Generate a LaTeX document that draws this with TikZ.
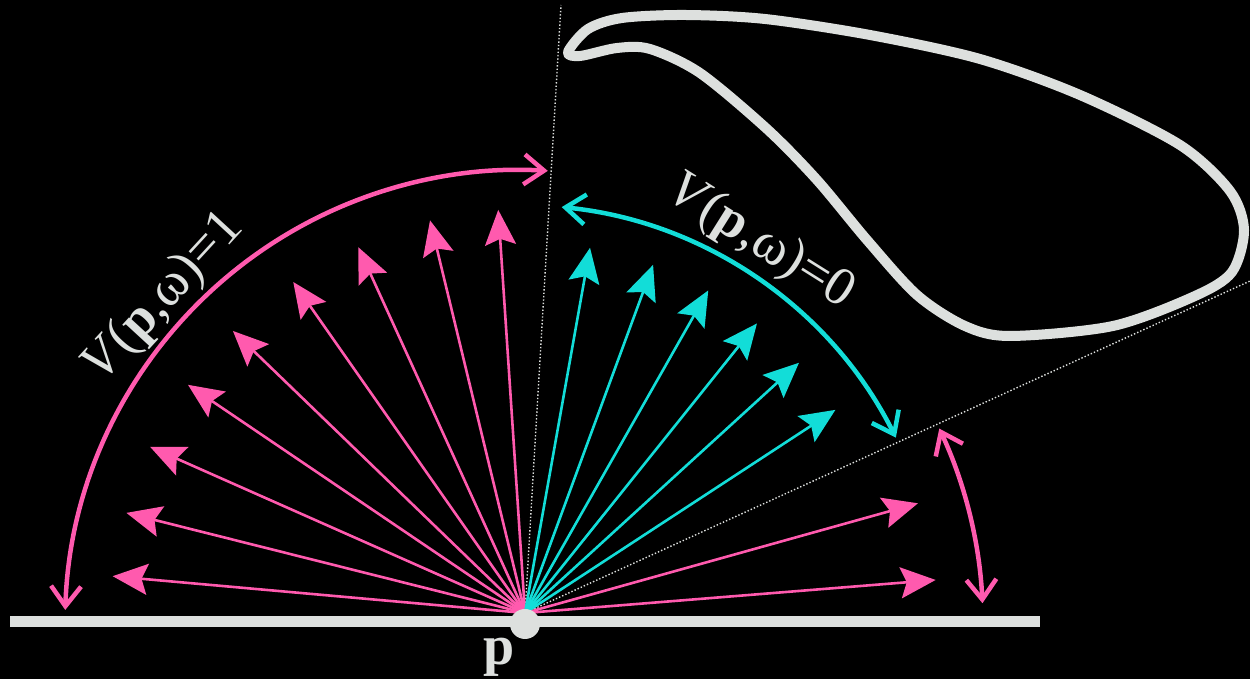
\documentclass[tikz,border=0pt]{standalone}
\usepackage{fontspec}
\setmainfont{Liberation Serif}
\usetikzlibrary{arrows.meta,calc}
\definecolor{pinkray}{HTML}{FF5AAE}
\definecolor{cyanray}{HTML}{12DDD8}
\definecolor{graylight}{HTML}{DDE0DE}
\tikzset{
  ray/.style={line width=2.6pt,-{Stealth[length=35pt,width=31pt,inset=6pt]}},
  span/.style={line width=4.5pt,{Straight Barb[length=20pt,width=30pt]}-{Straight Barb[length=20pt,width=30pt]}},
  vislabel/.style={graylight,inner sep=0pt,font=\fontsize{54}{54}\selectfont},
}

\begin{document}
\begin{tikzpicture}[x=1pt,y=1pt,>=Stealth]
  \useasboundingbox (0,0) rectangle (1250,679);
  \fill[black] (0,0) rectangle (1250,679);
  \coordinate (p) at (525,66);
  \coordinate (c) at (520,54);
  \coordinate (conetop) at (561,674);
  \coordinate (coneside) at (1250,398);
  % cone of directions hitting the occluder
  \draw[graylight,line width=1.4pt,dotted] (p) -- (conetop);
  \draw[graylight,line width=1.4pt,dotted] (p) -- (coneside);
  % occluder
  \draw[graylight,line width=10pt,fill=black,line join=round]
    plot[smooth cycle,tension=0.5] coordinates {
      (568,627) (588,650) (622,661) (685,664) (765,660) (870,644)
      (980,620) (1080,584) (1180,534) (1230,488) (1244,449) (1232,407)
      (1195,383) (1113,353) (1010,343) (965,353) (917,384) (867,439)
      (817,499) (767,550) (700,606) (650,630) (617,631) (580,623)};
  % surface
  \draw[graylight,line width=11pt] (10,57) -- (1040,57);
  % visible directions
  \foreach \a/\l in {174.9/414,165.9/411,156.1/410,145.9/407,136/406,
                     125/404,114.5/402,103.6/404,93.8/404,15.6/408,4.6/412}
    \draw[ray,pinkray] (p) -- ++(\a:\l);
  % occluded directions
  \foreach \a in {79.9,69.8,60.4,51.3,42.4,33.2}
    \draw[ray,cyanray] (p) -- ++(\a:371);
  % angular spans
  \draw[span,pinkray] ($(c)+(178.1:455)$) arc[start angle=178.1,end angle=86.5,radius=455];
  \draw[span,cyanray] ($(c)+(84.3:420)$) arc[start angle=84.3,end angle=26.5,radius=420];
  \draw[span,pinkray] ($(c)+(25.1:463)$) arc[start angle=25.1,end angle=2.7,radius=463];
  \node[circle,fill=graylight,minimum size=30pt,inner sep=0pt] (dot) at (525,55) {};
  \node[graylight,font=\fontsize{56}{56}\selectfont] (plabel) at (499,22) {\textbf{p}};
  \node[vislabel,rotate=47.4] (vis) at ($(c)+(137.4:484)$) {\textit{V}(\textbf{p},ω)=1};
  \node[vislabel,rotate=-32.1] (occ) at ($(c)+(57.9:452)$) {\textit{V}(\textbf{p},ω)=0};
\end{tikzpicture}
\end{document}
